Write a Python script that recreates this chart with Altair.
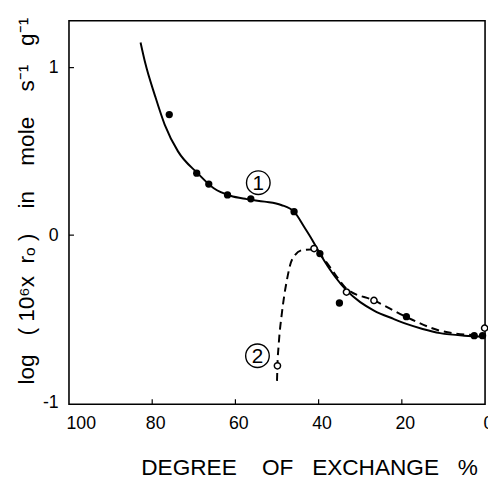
import altair as alt
import pandas as pd

# ---- data ----
filled_x = [75.9, 69.3, 66.4, 61.9, 56.3, 45.9, 39.7, 35.0, 18.9, 2.6, 0.6]
filled_y = [0.72, 0.37, 0.305, 0.24, 0.217, 0.14, -0.11, -0.405, -0.487, -0.60, -0.60]

open_x = [49.9, 41.1, 33.3, 26.7, 0.1]
open_y = [-0.78, -0.08, -0.34, -0.39, -0.555]

curve1_x = [82.8, 81.7, 79.3, 77.0, 73.8, 69.1, 65.2, 61.2, 57.3, 53.0, 49.0, 45.9,
            43.5, 41.5, 39.7, 36.0, 33.3, 30.0, 26.7, 22.0, 18.9, 15.0, 10.8, 5.0, 0.0]
curve1_y = [1.15, 1.03, 0.83, 0.66, 0.50, 0.37, 0.28, 0.235, 0.215, 0.20, 0.18, 0.14,
            0.05, -0.03, -0.11, -0.25, -0.33, -0.40, -0.45, -0.50, -0.53, -0.56, -0.585, -0.60, -0.605]

curve2_x = [50.0, 49.9, 49.6, 48.8, 47.6, 46.4, 44.0, 41.1, 38.5, 36.0, 33.3, 26.7, 18.8, 10.9, 2.4]
curve2_y = [-0.87, -0.78, -0.655, -0.46, -0.265, -0.147, -0.09, -0.085, -0.15, -0.235, -0.32, -0.39, -0.49, -0.57, -0.597]

label_text = ["1", "2"]
label_x = [54.5, 54.7]
label_y = [0.313, -0.72]

x_ticks = [100, 80, 60, 40, 20, 0]
y_ticks = [-1, 0, 1]
x_inner_ticks = [80, 60, 40, 20]
y_inner_ticks = [0, 1]

X_DOMAIN = [100, 0]
Y_DOMAIN = [-1.01, 1.28]

NB = "\u00a0"
X_TITLE = "DEGREE" + NB * 4 + "OF" + NB * 3 + "EXCHANGE" + NB * 3 + "%"
Y_TITLE = ("log" + NB * 3 + "(" + NB + "10⁶x" + NB * 2 + "rₒ" + NB + ")" + NB * 4 +
           "in" + NB * 4 + "mole" + NB * 4 + "s⁻¹" + NB * 3 + "g⁻¹")

filled = pd.DataFrame({"x": filled_x, "y": filled_y})
opened = pd.DataFrame({"x": open_x, "y": open_y})
c1 = pd.DataFrame({"x": curve1_x, "y": curve1_y})
c2 = pd.DataFrame({"x": curve2_x, "y": curve2_y})
labels = pd.DataFrame({"x": label_x, "y": label_y, "t": label_text})
xt = pd.DataFrame({"x": x_inner_ticks, "y": [-1.01] * len(x_inner_ticks),
                   "y2": [-0.98] * len(x_inner_ticks)})
yt = pd.DataFrame({"y": y_inner_ticks, "x": [100] * len(y_inner_ticks),
                   "x2": [98.8] * len(y_inner_ticks)})

FONT = "Liberation Sans"

xscale = alt.Scale(domain=X_DOMAIN, nice=False, zero=False)
yscale = alt.Scale(domain=Y_DOMAIN, nice=False, zero=False)

xaxis = alt.Axis(
    values=x_ticks, grid=False, domain=False, ticks=False,
    labelFont=FONT, labelFontSize=18, labelColor="black", labelPadding=11,
    labelOffset={"expr": "datum.value == 100 ? 12 : 3"},
    labelFlush=False, labelOverlap=False,
    title=X_TITLE,
    titleFont=FONT, titleFontSize=23, titleFontWeight="normal", titleColor="black",
    titleX=73, titleY=71, titleAlign="left", titleBaseline="alphabetic", titleAnchor="start",
)
yaxis = alt.Axis(
    values=y_ticks, grid=False, domain=False, ticks=False,
    labelFont=FONT, labelFontSize=18, labelColor="black", labelPadding=11,
    labelExpr="datum.value < 0 ? '-' + abs(datum.value) : '' + datum.value",
    labelFlush=False, labelOverlap=False,
    title=Y_TITLE,
    titleFont=FONT, titleFontSize=23, titleFontWeight="normal", titleColor="black",
    titleX=-36, titleY=183, titleAlign="center", titleBaseline="alphabetic", titleAngle=270,
)

X = alt.X("x:Q", scale=xscale, axis=xaxis)
Y = alt.Y("y:Q", scale=yscale, axis=yaxis)

line1 = alt.Chart(c1).mark_line(color="black", strokeWidth=2, interpolate="monotone", clip=True).encode(x=X, y=Y)
line2 = alt.Chart(c2).mark_line(color="black", strokeWidth=2, strokeDash=[8, 5],
                                interpolate="monotone", clip=True).encode(x="x:Q", y="y:Q")
pts_f = alt.Chart(filled).mark_point(shape="circle", filled=True, color="black", size=55, opacity=1).encode(x="x:Q", y="y:Q")
pts_o = alt.Chart(opened).mark_point(shape="circle", filled=True, fill="white", stroke="black",
                                     strokeWidth=1.5, size=40, opacity=1).encode(x="x:Q", y="y:Q")
circ = alt.Chart(labels).mark_point(shape="circle", filled=True, fill="white", stroke="black",
                                    strokeWidth=1.4, size=575, opacity=1).encode(x="x:Q", y="y:Q")
txt = alt.Chart(labels).mark_text(font=FONT, fontSize=21, color="black", baseline="middle",
                                  align="center", dy=1).encode(x="x:Q", y="y:Q", text="t:N")
tx = alt.Chart(xt).mark_rule(color="black", strokeWidth=1.2).encode(x="x:Q", y="y:Q", y2="y2:Q")
ty = alt.Chart(yt).mark_rule(color="black", strokeWidth=1.2).encode(x="x:Q", x2="x2:Q", y="y:Q")

chart = alt.layer(line1, line2, tx, ty, pts_f, pts_o, circ, txt).properties(
    width=423, height=390,
    autosize=alt.AutoSizeParams(type="none"),
    padding={"left": 62, "top": 9, "right": 3, "bottom": 73},
    background="white",
).configure_view(stroke="black", strokeWidth=1.6)

chart.save("out.html", embed_options={"renderer": "svg", "actions": False})
